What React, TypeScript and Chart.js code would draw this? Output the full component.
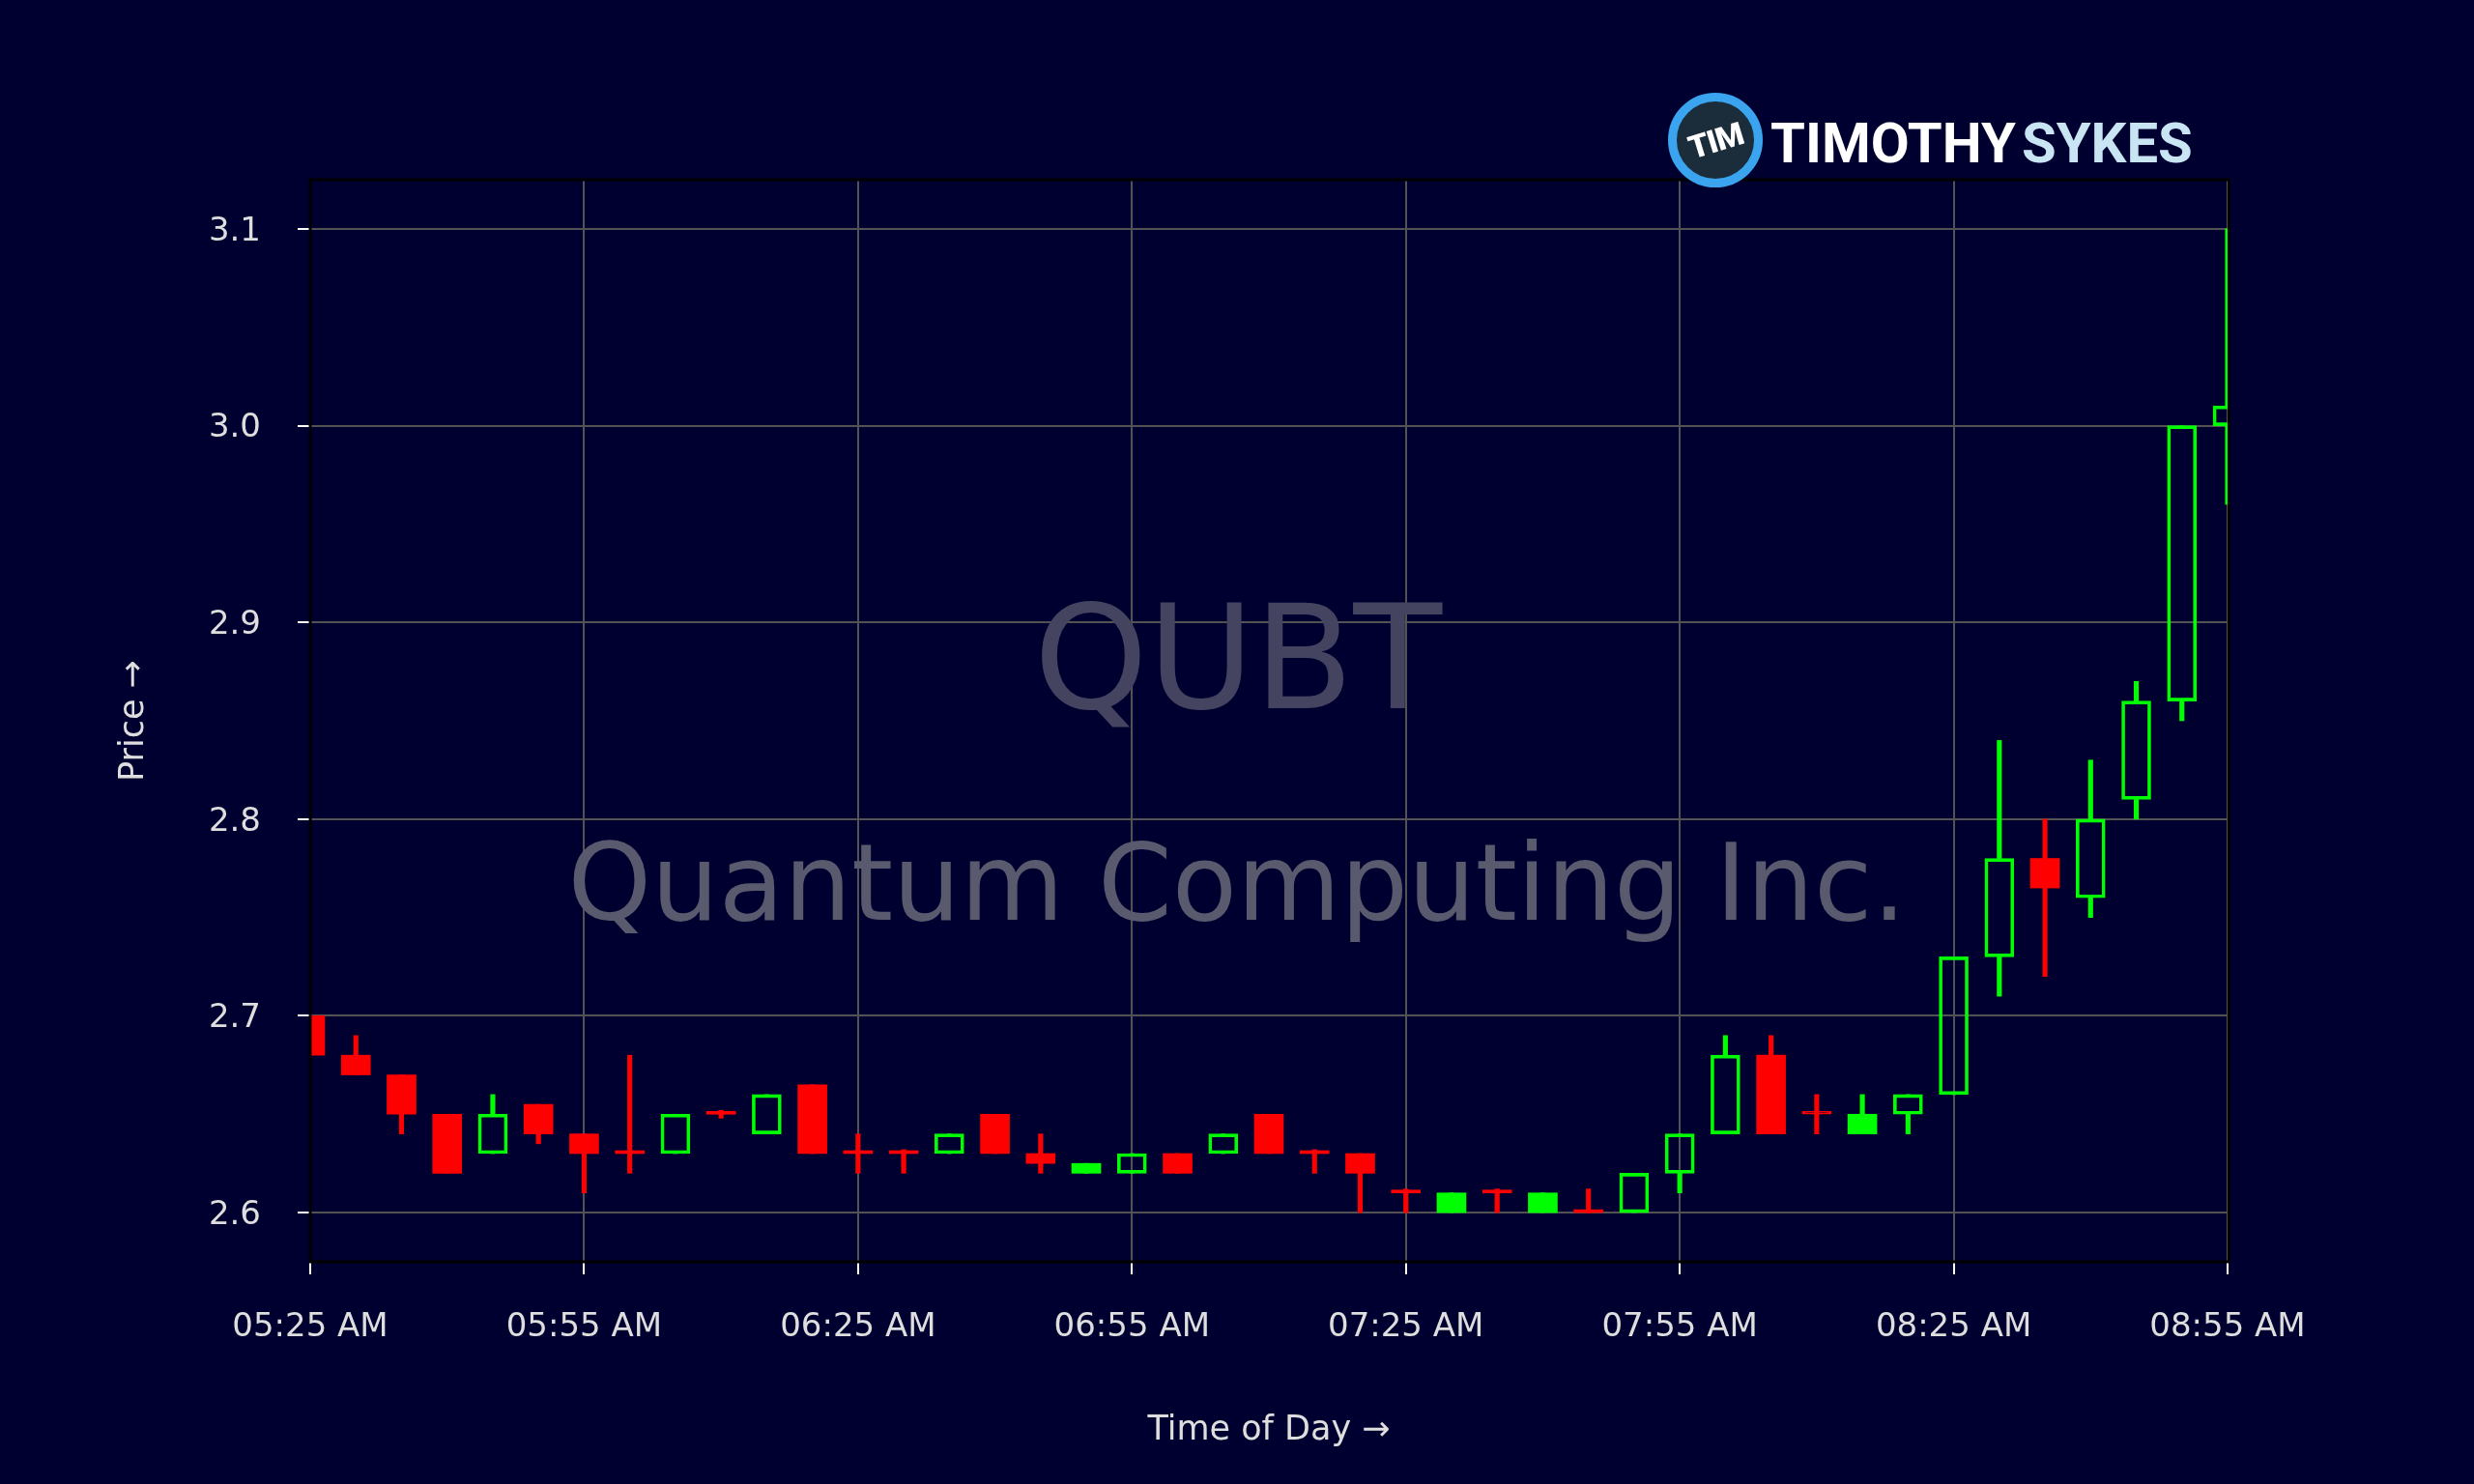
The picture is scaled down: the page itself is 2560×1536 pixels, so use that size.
import React, { useEffect, useRef } from "react";
import { Chart, registerables } from "chart.js";

Chart.register(...registerables);

// ---- Data (5-minute candles) ----
const times = [
  "05:25", "05:30", "05:35", "05:40", "05:45", "05:50", "05:55",
  "06:00", "06:05", "06:10", "06:15", "06:20", "06:25", "06:30",
  "06:35", "06:40", "06:45", "06:50", "06:55", "07:00", "07:05",
  "07:10", "07:15", "07:20", "07:25", "07:30", "07:35", "07:40",
  "07:45", "07:50", "07:55", "08:00", "08:05", "08:10", "08:15",
  "08:20", "08:25", "08:30", "08:35", "08:40", "08:45", "08:50", "08:55",
];
const opens = [
  2.70, 2.68, 2.67, 2.65, 2.63, 2.655, 2.64,
  2.63, 2.63, 2.65, 2.64, 2.665, 2.63, 2.63,
  2.63, 2.65, 2.63, 2.62, 2.62, 2.63, 2.63,
  2.65, 2.63, 2.63, 2.61, 2.60, 2.61, 2.60,
  2.60, 2.60, 2.62, 2.64, 2.68, 2.65, 2.64,
  2.65, 2.66, 2.73, 2.78, 2.76, 2.81, 2.86, 3.00,
];
const highs = [
  2.70, 2.69, 2.67, 2.65, 2.66, 2.655, 2.64,
  2.68, 2.65, 2.652, 2.66, 2.665, 2.64, 2.632,
  2.64, 2.65, 2.64, 2.625, 2.63, 2.63, 2.64,
  2.65, 2.632, 2.63, 2.612, 2.61, 2.612, 2.61,
  2.612, 2.62, 2.64, 2.69, 2.69, 2.66, 2.66,
  2.66, 2.73, 2.84, 2.80, 2.83, 2.87, 3.00, 3.10,
];
const lows = [
  2.68, 2.67, 2.64, 2.62, 2.63, 2.635, 2.61,
  2.62, 2.63, 2.648, 2.64, 2.63, 2.62, 2.62,
  2.63, 2.63, 2.62, 2.62, 2.62, 2.62, 2.63,
  2.63, 2.62, 2.60, 2.60, 2.60, 2.60, 2.60,
  2.60, 2.60, 2.61, 2.64, 2.64, 2.64, 2.64,
  2.64, 2.66, 2.71, 2.72, 2.75, 2.80, 2.85, 2.96,
];
const closes = [
  2.68, 2.67, 2.65, 2.62, 2.65, 2.64, 2.63,
  2.63, 2.65, 2.65, 2.66, 2.63, 2.63, 2.63,
  2.64, 2.63, 2.625, 2.625, 2.63, 2.62, 2.64,
  2.63, 2.63, 2.62, 2.61, 2.61, 2.61, 2.61,
  2.60, 2.62, 2.64, 2.68, 2.64, 2.65, 2.65,
  2.66, 2.73, 2.78, 2.765, 2.80, 2.86, 3.00, 3.01,
];

const xTickLabels = [
  "05:25 AM", "05:55 AM", "06:25 AM", "06:55 AM",
  "07:25 AM", "07:55 AM", "08:25 AM", "08:55 AM",
];
const yTicks = [2.6, 2.7, 2.8, 2.9, 3.0, 3.1];
const yMin = 2.575;
const yMax = 3.125;

const tickerName = "QUBT";
const companyName = "Quantum Computing Inc.";
const xTitle = "Time of Day →";
const yTitle = "Price →";

// ---- Styles ----
const BG = "#000030";
const GREEN = "#00ff00";
const RED = "#ff0000";
const GRID = "#535353";
const TEXT = "#dedede";
const FONT = "'DejaVu Sans', sans-serif";

function toMinutes(s: string): number {
  const m = s.match(/(\d+):(\d+)\s*(AM|PM)?/)!;
  let h = parseInt(m[1], 10);
  const mm = parseInt(m[2], 10);
  if (m[3] === "PM" && h < 12) h += 12;
  if (m[3] === "AM" && h === 12) h = 0;
  return h * 60 + mm;
}

export default function App() {
  const canvasRef = useRef<HTMLCanvasElement | null>(null);

  useEffect(() => {
    const canvas = canvasRef.current;
    if (!canvas) return;

    const xs = times.map(toMinutes);
    const isUp = closes.map((c, i) => c > opens[i]);
    const isHollow = closes.map((c, i) => i > 0 && c > closes[i - 1]);
    const colors = isUp.map((u) => (u ? GREEN : RED));

    const bodyData = xs.map((x, i) => ({ x, y: [opens[i], closes[i]] }));
    const lowWickData = xs.map((x, i) => ({
      x,
      y: [lows[i], Math.min(opens[i], closes[i])],
    }));
    const highWickData = xs.map((x, i) => ({
      x,
      y: [Math.max(opens[i], closes[i]), highs[i]],
    }));

    const xTickValues = xTickLabels.map(toMinutes);

    const watermark = {
      id: "watermark",
      beforeDatasetsDraw(chart: any) {
        const { ctx, width } = chart;
        ctx.save();
        ctx.textAlign = "center";
        ctx.textBaseline = "alphabetic";
        ctx.font = `150px ${FONT}`;
        ctx.fillStyle = "#444460";
        ctx.fillText(tickerName, width / 2 + 1, 733);
        ctx.font = `110px ${FONT}`;
        ctx.fillStyle = "#5a5a6e";
        ctx.fillText(companyName, width / 2, 952);
        ctx.restore();
      },
    };

    const frame = {
      id: "frame",
      afterDatasetsDraw(chart: any) {
        const { ctx, chartArea } = chart;
        const { left, right, top, bottom } = chartArea;
        ctx.save();
        ctx.strokeStyle = "#000000";
        ctx.lineWidth = 3;
        ctx.beginPath();
        ctx.moveTo(left, bottom);
        ctx.lineTo(left, top);
        ctx.lineTo(right + 1.5, top);
        ctx.lineTo(right + 1.5, bottom);
        ctx.closePath();
        ctx.stroke();
        ctx.restore();
      },
    };

    const chart = new Chart(canvas, {
      type: "bar",
      data: {
        datasets: [
          {
            label: "body",
            data: bodyData as any,
            grouped: false,
            barThickness: 30,
            minBarLength: 3,
            backgroundColor: colors.map((c, i) => (isHollow[i] ? "rgba(0,0,0,0)" : c)),
            borderColor: colors,
            borderWidth: isHollow.map((h) => (h ? 3 : 0)),
            borderSkipped: false,
            clip: 0,
          } as any,
          {
            label: "highWick",
            data: highWickData as any,
            grouped: false,
            barThickness: 4.5,
            backgroundColor: colors,
            borderWidth: 0,
            borderSkipped: false,
            clip: 0,
          } as any,
          {
            label: "lowWick",
            data: lowWickData as any,
            grouped: false,
            barThickness: 4.5,
            backgroundColor: colors,
            borderWidth: 0,
            borderSkipped: false,
            clip: 0,
          } as any,
        ],
      },
      options: {
        animation: false,
        responsive: false,
        maintainAspectRatio: false,
        devicePixelRatio: 1,
        events: [],
        layout: { padding: { left: 0, top: 186, right: 255, bottom: 0 } },
        plugins: {
          legend: { display: false },
          tooltip: { enabled: false },
          title: { display: false },
        },
        scales: {
          x: {
            type: "linear",
            min: xs[0],
            max: xs[xs.length - 1],
            offset: false,
            afterBuildTicks: (scale: any) => {
              scale.ticks = xTickValues.map((v) => ({ value: v }));
            },
            afterFit: (scale: any) => {
              scale.height = 230;
            },
            grid: {
              offset: false,
              color: GRID,
              lineWidth: 2,
              drawTicks: true,
              tickLength: 13,
              tickColor: "#ffffff",
              tickWidth: 2,
            },
            border: { display: false },
            ticks: {
              autoSkip: false,
              maxRotation: 0,
              minRotation: 0,
              padding: 35,
              color: TEXT,
              font: { family: FONT, size: 34 },
              callback: (_v: any, index: number) => xTickLabels[index],
            },
            title: {
              display: true,
              text: xTitle,
              color: TEXT,
              font: { family: FONT, size: 35 },
              padding: { top: 0, bottom: 34 },
            },
          },
          y: {
            type: "linear",
            min: yMin,
            max: yMax,
            beginAtZero: false,
            afterBuildTicks: (scale: any) => {
              scale.ticks = yTicks.map((v) => ({ value: v }));
            },
            afterFit: (scale: any) => {
              scale.width = 321;
            },
            grid: {
              color: GRID,
              lineWidth: 2,
              drawTicks: true,
              tickLength: 13,
              tickColor: "#ffffff",
              tickWidth: 2,
            },
            border: { display: false },
            ticks: {
              padding: 38,
              labelOffset: 3,
              color: TEXT,
              font: { family: FONT, size: 34 },
              callback: (v: any) => Number(v).toFixed(1),
            },
            title: {
              display: true,
              text: yTitle,
              color: TEXT,
              font: { family: FONT, size: 35 },
              padding: { top: 118, bottom: 0 },
            },
          },
        },
      } as any,
      plugins: [watermark, frame],
    });

    return () => {
      chart.destroy();
    };
  }, []);

  return (
    <div
      style={{
        position: "fixed",
        left: 0,
        top: 0,
        width: 2560,
        height: 1536,
        background: BG,
        overflow: "hidden",
      }}
    >
      <canvas
        ref={canvasRef}
        width={2560}
        height={1536}
        style={{ position: "absolute", left: 0, top: 0, width: 2560, height: 1536, display: "block" }}
      />
      {/* Brand logo */}
      <div
        style={{
          position: "absolute",
          left: 1726,
          top: 96,
          width: 98,
          height: 98,
          boxSizing: "border-box",
          borderRadius: "50%",
          border: "9px solid #3ba4ef",
          background: "#1b2d3b",
        }}
      >
        <div
          style={{
            position: "absolute",
            left: 0,
            top: 0,
            width: 80,
            height: 80,
            display: "flex",
            alignItems: "center",
            justifyContent: "center",
          }}
        >
          <span
            style={{
              fontFamily: "Roboto, 'DejaVu Sans', sans-serif",
              fontWeight: 900,
              fontSize: 33,
              color: "#ffffff",
              letterSpacing: -1,
              transform: "rotate(-17deg)",
              display: "inline-block",
              lineHeight: "33px",
            }}
          >
            TIM
          </span>
        </div>
      </div>
      <div
        style={{
          position: "absolute",
          left: 1832,
          top: 119,
          fontFamily: "Roboto, 'DejaVu Sans', sans-serif",
          fontWeight: 700,
          fontSize: 58,
          lineHeight: "58px",
          color: "#ffffff",
          whiteSpace: "nowrap",
        }}
      >
        TIMOTHY
      </div>
      <div
        style={{
          position: "absolute",
          left: 2092,
          top: 119,
          fontFamily: "Roboto, 'DejaVu Sans', sans-serif",
          fontWeight: 700,
          fontSize: 58,
          lineHeight: "58px",
          color: "#c9e5f3",
          whiteSpace: "nowrap",
        }}
      >
        SYKES
      </div>
    </div>
  );
}
